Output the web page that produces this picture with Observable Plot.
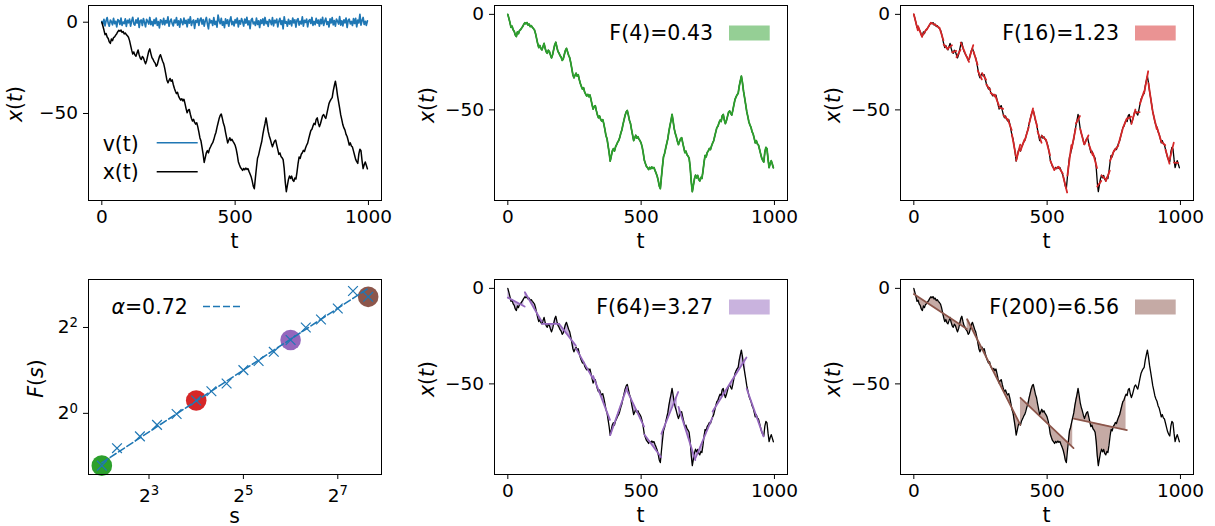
<!DOCTYPE html>
<html>
<head>
<meta charset="utf-8">
<script src="https://cdn.jsdelivr.net/npm/d3@7"></script>
<script src="https://cdn.jsdelivr.net/npm/@observablehq/plot@0.6"></script>
<style>
  body { margin: 0; background: #fff; }
  #fig { position: relative; width: 1215px; height: 526px; overflow: hidden; background: #fff; }
  #fig svg { position: absolute; overflow: visible; }
</style>
</head>
<body>
<div id="fig"></div>
<script>
// ---- data -------------------------------------------------------------
// time index of the recorded samples (every 4th step of a 1000-step walk)
const tSample = d3.range(0, 1000, 4);

// integrated walk x(t)
const xSeries = [
  0, -2.1, -4.3, -6.8, -6.2, -8.1, -8.9, -10.8, -11.6, -9.2, -10.1, -8.4, -8.0, -7.1, -6.3, -5.2, -4.4, -4.9, -4.3, -5.6, -5.1, -6.4, -5.9, -6.8, -7.4,
  -8.2, -10.1, -12.7, -15.3, -17.4, -16.3, -17.9, -18.6, -16.9, -15.2, -17.8, -19.6, -20.4, -18.8, -19.5, -21.3, -22.8, -21.1, -18.4, -15.9, -14.6, -17.2, -19.4, -20.3, -21.6,
  -22.4, -24.1, -23.3, -21.0, -18.9, -17.8, -19.6, -21.4, -22.7, -25.3, -28.4, -31.6, -33.2, -31.9, -30.8, -32.3, -31.6, -34.1, -36.2, -37.8, -39.1, -38.4, -40.6, -41.8, -42.7,
  -41.9, -43.1, -42.2, -44.6, -47.3, -49.6, -48.2, -47.8, -50.4, -52.6, -54.1, -53.2, -54.9, -55.8, -55.1, -57.3, -60.2, -63.4, -65.1, -68.7, -72.4, -76.8, -74.2, -71.5, -70.3,
  -71.6, -69.4, -68.2, -66.9, -66.0, -64.3, -62.1, -60.4, -57.6, -55.2, -52.8, -51.1, -50.3, -52.7, -55.4, -57.1, -60.3, -63.2, -66.1, -64.7, -63.3, -64.8, -64.1, -65.3, -66.2,
  -67.4, -69.5, -72.6, -76.4, -78.1, -79.6, -80.3, -81.2, -80.1, -80.8, -79.9, -80.6, -80.2, -81.7, -83.1, -84.6, -86.9, -89.8, -91.2, -85.3, -79.6, -74.5, -72.8, -70.1, -67.6,
  -65.2, -61.4, -58.3, -55.6, -52.4, -55.9, -59.8, -62.3, -64.1, -66.4, -68.2, -66.5, -65.1, -64.6, -67.3, -69.8, -72.4, -71.6, -73.5, -74.2, -75.3, -80.1, -87.6, -92.8, -89.4,
  -86.1, -84.2, -85.6, -84.3, -86.4, -87.2, -85.3, -85.9, -82.1, -77.4, -73.8, -74.6, -72.3, -71.5, -70.2, -70.8, -68.9, -67.4, -66.2, -63.8, -61.5, -59.3, -58.6, -56.8, -55.4,
  -56.1, -53.2, -52.4, -55.3, -57.2, -55.6, -53.4, -51.2, -50.6, -51.8, -52.7, -50.1, -47.3, -44.6, -43.2, -42.1, -41.3, -37.6, -34.8, -32.3, -35.7, -40.2, -43.6, -47.1, -50.8,
  -53.4, -56.2, -57.9, -59.1, -61.4, -62.6, -64.8, -67.3, -66.1, -67.8, -68.4, -70.6, -72.9, -75.1, -76.4, -77.3, -72.1, -69.6, -70.4, -75.8, -80.2, -78.1, -76.6, -78.4, -80.3
];

// increments v(t)
const vSeries = [
  0.4, -1.0, 1.6, -2.0, 0.8, 2.5, -0.5, -2.2, 1.2, 0.3, -1.4, 2.1, -0.8, 0.5, -2.6, 1.4, 0.9, -1.2, 2.3, -1.7, 0.1, -0.7, 1.8, -2.3, 1.0,
  -0.3, 1.7, -2.1, 0.7, 2.7, -0.9, -1.6, 1.3, -0.4, 2.2, -2.9, 0.8, 1.2, -1.8, 2.0, -0.1, -2.5, 1.6, 0.5, -1.0, 2.6, -1.3, 0.4, -2.0, 1.4,
  -0.8, 2.3, -1.7, 0.3, -3.1, 1.3, 0.7, -1.2, 2.1, -1.4, 0.9, -0.4, 2.9, -2.2, 0.5, 1.7, -0.8, -2.0, 1.2, -0.3, 2.5, -1.6, 0.8, -2.7, 1.8,
  0.1, -1.3, 2.2, -0.7, 1.0, -2.5, 1.6, -0.5, 3.0, -1.8, 0.4, 1.3, -3.4, 0.9, -0.1, 2.0, -1.7, 1.2, 2.3, -1.0, 1.4, -2.1, 0.7, 2.6, -0.9,
  -3.6, 1.7, -0.3, 0.8, -1.8, 2.5, -1.2, 0.5, -2.7, 3.9, 1.0, -0.8, 2.1, -1.6, 0.3, -3.0, 1.8, -0.7, 1.3, -2.2, 0.8, 2.9, -1.3, 0.4, -2.0,
  1.4, -0.4, 2.3, -2.6, 0.9, -1.0, 2.0, 0.3, -2.1, 1.7, -0.5, 2.7, -1.4, 0.7, -3.5, 1.2, 2.1, -0.9, 0.1, -1.8, 2.2, -1.2, 0.8, -2.9, 1.3,
  -0.7, 1.8, -1.6, 2.6, -0.8, 0.4, -2.3, 1.4, 0.7, -1.3, 2.5, -2.0, 1.0, -0.3, 1.7, -2.6, 0.5, 2.1, -1.2, 0.9, -3.6, 3.0, -0.5, 0.3, -2.2,
  1.6, -1.0, 0.8, -2.0, 2.3, -0.4, 1.3, -2.7, 1.2, 2.0, -1.6, 0.5, -0.9, 2.9, -2.1, 1.0, -0.1, 1.7, -2.5, 0.8, 1.4, -0.7, 2.6, -1.7, 0.4,
  -1.3, 2.1, -0.5, 1.2, -2.2, 1.6, -0.8, 2.7, -1.8, 0.7, 2.2, -1.2, 0.3, -2.6, 1.8, -0.4, 2.5, -1.4, 0.9, -2.1, 1.7, 0.5, -1.0, 3.1, -1.6,
  0.8, -2.0, 1.3, -0.3, 2.3, -2.9, 1.0, 1.7, -0.9, 0.4, -1.8, 2.0, -0.7, 2.1, -2.5, 1.2, -0.4, 4.3, -1.6, 0.9, 2.6, -1.2, 0.5, -1.7, 0.7
];

// fluctuation function F(s) over window sizes s
const scales = [4, 5, 7, 9, 12, 16, 20, 25, 32, 40, 50, 64, 80, 100, 128, 160, 200];
const fluct = [0.43, 0.57, 0.69, 0.83, 0.99, 1.23, 1.43, 1.62, 2.01, 2.33, 2.70, 3.27, 4.00, 4.55, 5.43, 7.20, 6.56];
const alphaExp = 0.72;

// the four window sizes shown in detail
const shownScales = [4, 16, 64, 200];
const shownF = [0.43, 1.23, 3.27, 6.56];
const shownColors = ["#2ca02c", "#d62728", "#9467bd", "#8c564b"];
const shownFaint = ["#95cf95", "#ea9393", "#c9b3de", "#c5aaa5"];

// ---- helpers ----------------------------------------------------------
const walk = tSample.map((t, i) => ({t, x: xSeries[i], v: vSeries[i]}));

function padded(lo, hi, frac = 0.05) {
  const m = (hi - lo) * frac;
  return [lo - m, hi + m];
}

// linear detrending in windows of size s (windows start at 0, s, 2s, ... < N - s)
function detrend(s) {
  const lines = [], area = [];
  for (let i = 0, w = 0; i < 1000 - s; i += s, w++) {
    const pts = walk.filter(d => d.t >= i && d.t < i + s);
    if (pts.length < 2) continue;
    const mt = d3.mean(pts, d => d.t), mx = d3.mean(pts, d => d.x);
    const b = d3.sum(pts, d => (d.t - mt) * (d.x - mx)) / d3.sum(pts, d => (d.t - mt) ** 2);
    const a = mx - b * mt;
    lines.push({t: i, y: a + b * i, w}, {t: i + s - 1, y: a + b * (i + s - 1), w});
    pts.forEach(d => area.push({t: d.t, x: d.x, fit: a + b * d.t, w}));
  }
  return {lines, area};
}

const FONT = "DejaVu Sans";
const TICK_FS = 18.5;   // tick labels
const FS = 20.5;        // axis labels and legends
const ML = 86, MR = 10, MT = 5, MB = 50, FW = 293, FH = 195;
const fig = document.getElementById("fig");

function panel({left, top, x, y, marks, xTicks, yTicks, xFmt, yFmt, xLabelDy = 0}) {
  const svg = Plot.plot({
    width: ML + FW + MR, height: MT + FH + MB,
    marginLeft: ML, marginRight: MR, marginTop: MT, marginBottom: MB,
    style: {fontFamily: FONT, fontSize: TICK_FS + "px", background: "transparent", color: "black", overflow: "visible"},
    x, y,
    marks: [
      ...marks,
      Plot.frame({stroke: "black", strokeWidth: 1}),
      Plot.axisX({ticks: xTicks, tickFormat: xFmt, tickSize: 5, tickPadding: 4 + xLabelDy, label: null, strokeWidth: 1}),
      Plot.axisY({ticks: yTicks, tickFormat: yFmt, tickSize: 5, tickPadding: 5.5, label: null, strokeWidth: 1})
    ]
  });
  const ox = left - ML, oy = top - MT;
  svg.style.left = ox + "px";
  svg.style.top = oy + "px";
  fig.appendChild(svg);
  return {svg, ox, oy};
}

// turn "2^5" tick labels into a base with a raised exponent
function superscriptTicks(svg) {
  d3.select(svg).selectAll("text").each(function () {
    const s = this.textContent;
    if (!s.includes("^")) return;
    const [base, exp] = s.split("^");
    const t = d3.select(this);
    t.text(null);
    t.append("tspan").text(base);
    t.append("tspan").attr("dy", "-0.5em").attr("font-size", "72%").text(exp);
  });
}

// text made of [string, italic] parts, placed in page coordinates
function addText(p, px, py, parts, {anchor = "middle", rotate = 0, size = FS} = {}) {
  const t = d3.select(p.svg).append("text")
    .attr("transform", `translate(${px - p.ox},${py - p.oy}) rotate(${rotate})`)
    .attr("text-anchor", anchor)
    .attr("dominant-baseline", "central")
    .attr("font-family", FONT)
    .attr("font-size", size)
    .attr("fill", "black");
  parts.forEach(([s, it]) => t.append("tspan").attr("font-style", it ? "italic" : "normal").text(s));
}
function addLine(p, x1, x2, yy, color, width, dash) {
  d3.select(p.svg).append("line")
    .attr("x1", x1 - p.ox).attr("x2", x2 - p.ox).attr("y1", yy - p.oy).attr("y2", yy - p.oy)
    .attr("stroke", color).attr("stroke-width", width).attr("stroke-dasharray", dash || null);
}
function addPatch(p, x1, y1, w, h, color) {
  d3.select(p.svg).append("rect")
    .attr("x", x1 - p.ox).attr("y", y1 - p.oy).attr("width", w).attr("height", h).attr("fill", color);
}

const tDomain = padded(0, 999);
const xyDomain = padded(d3.min(xSeries), d3.max(xSeries));
const fig1Domain = padded(Math.min(d3.min(xSeries), d3.min(vSeries)), Math.max(d3.max(xSeries), d3.max(vSeries)));
const tAxis = {ticks: [0, 500, 1000], fmt: d3.format("d")};
const xAxisY = {ticks: [-50, 0], fmt: d3.format("d")};
const xtLabel = [["x", true], ["(", false], ["t", true], [")", false]];

const cols = [88.3, 494.3, 900];
const rows = [5, 278.5];

// ---- panel 1: v(t) and x(t) -------------------------------------------
{
  const p = panel({
    left: cols[0], top: rows[0],
    x: {domain: tDomain}, y: {domain: fig1Domain},
    marks: [
      Plot.line(walk, {x: "t", y: "v", stroke: "#1f77b4", strokeWidth: 1.7}),
      Plot.line(walk, {x: "t", y: "x", stroke: "black", strokeWidth: 1.5})
    ],
    xTicks: tAxis.ticks, xFmt: tAxis.fmt, yTicks: xAxisY.ticks, yFmt: xAxisY.fmt
  });
  addText(p, 15, 104, xtLabel, {rotate: -90});
  addText(p, cols[0] + FW / 2, 241, [["t", false]]);
  addText(p, 103, 144, [["v(t)", false]], {anchor: "start"});
  addText(p, 103, 172, [["x(t)", false]], {anchor: "start"});
  addLine(p, 157, 198, 142.7, "#1f77b4", 1.5);
  addLine(p, 157, 198, 171.7, "black", 1.5);
}

// ---- detrended panels -------------------------------------------------
const detailPos = [[cols[1], rows[0]], [cols[2], rows[0]], [cols[1], rows[1]], [cols[2], rows[1]]];
shownScales.forEach((s, k) => {
  const [left, top] = detailPos[k];
  const {lines, area} = detrend(s);
  const marks = [];
  marks.push(Plot.areaY(area, {x: "t", y1: "fit", y2: "x", z: "w", fill: shownFaint[k], curve: "linear"}));
  marks.push(Plot.line(walk, {x: "t", y: "x", stroke: "black", strokeWidth: 1.3}));
  if (lines.length) {
    marks.push(Plot.line(lines, {x: "t", y: "y", z: "w", stroke: shownColors[k], strokeWidth: 1.8}));
  } else {
    // windows shorter than the sampling step: the local fit follows the walk itself
    marks.push(Plot.line(walk, {x: "t", y: "x", stroke: shownColors[k], strokeWidth: 1.8}));
  }
  const p = panel({
    left, top,
    x: {domain: tDomain}, y: {domain: xyDomain},
    marks,
    xTicks: tAxis.ticks, xFmt: tAxis.fmt, yTicks: xAxisY.ticks, yFmt: xAxisY.fmt
  });
  addText(p, left - 67, top + 100, xtLabel, {rotate: -90});
  addText(p, left + FW / 2, top + 236, [["t", false]]);
  const legendY = top + 28;
  addText(p, left + 219, legendY, [[`F(${s})=${shownF[k].toFixed(2)}`, false]], {anchor: "end"});
  addPatch(p, left + 235, legendY - 7.5, 40.7, 15, shownFaint[k]);
});

// ---- panel 4: F(s) on log-log axes ------------------------------------
{
  const ls = scales.map(Math.log2), lf = fluct.map(Math.log2);
  const intercept = d3.mean(lf) - alphaExp * d3.mean(ls);
  const fitLine = scales.map(s => ({s, f: 2 ** (intercept + alphaExp * Math.log2(s))}));
  const allF = [...fluct, ...fitLine.map(d => d.f)];
  const sDom = padded(d3.min(ls), d3.max(ls)).map(v => 2 ** v);
  const fDom = padded(d3.min(allF, Math.log2), d3.max(allF, Math.log2)).map(v => 2 ** v);
  const pow2 = d => "2^" + Math.round(Math.log2(d));
  const pts = scales.map((s, i) => ({s, f: fluct[i]}));
  const big = shownScales.map((s, i) => ({s, f: shownF[i], c: shownColors[i]}));
  const p = panel({
    left: cols[0], top: rows[1],
    x: {type: "log", base: 2, domain: sDom},
    y: {type: "log", base: 2, domain: fDom},
    marks: [
      Plot.dot(big, {x: "s", y: "f", r: 10.3, fill: "c", stroke: null}),
      Plot.line(fitLine, {x: "s", y: "f", stroke: "#1f77b4", strokeWidth: 1.6, strokeDasharray: "7,3"}),
      Plot.dot(pts, {x: "s", y: "f", symbol: "times", r: 4.5, stroke: "#1f77b4", strokeWidth: 1.2})
    ],
    xTicks: [8, 32, 128], xFmt: pow2, yTicks: [1, 4], yFmt: pow2, xLabelDy: 5
  });
  superscriptTicks(p.svg);
  addText(p, 36, 378, [["F", true], ["(", false], ["s", true], [")", false]], {rotate: -90});
  addText(p, cols[0] + FW / 2, 515, [["s", false]]);
  addText(p, 111.7, 306, [["α", true], ["=0.72", false]], {anchor: "start"});
  addLine(p, 203.3, 241.7, 306, "#1f77b4", 1.6, "7,3");
}
</script>
</body>
</html>
